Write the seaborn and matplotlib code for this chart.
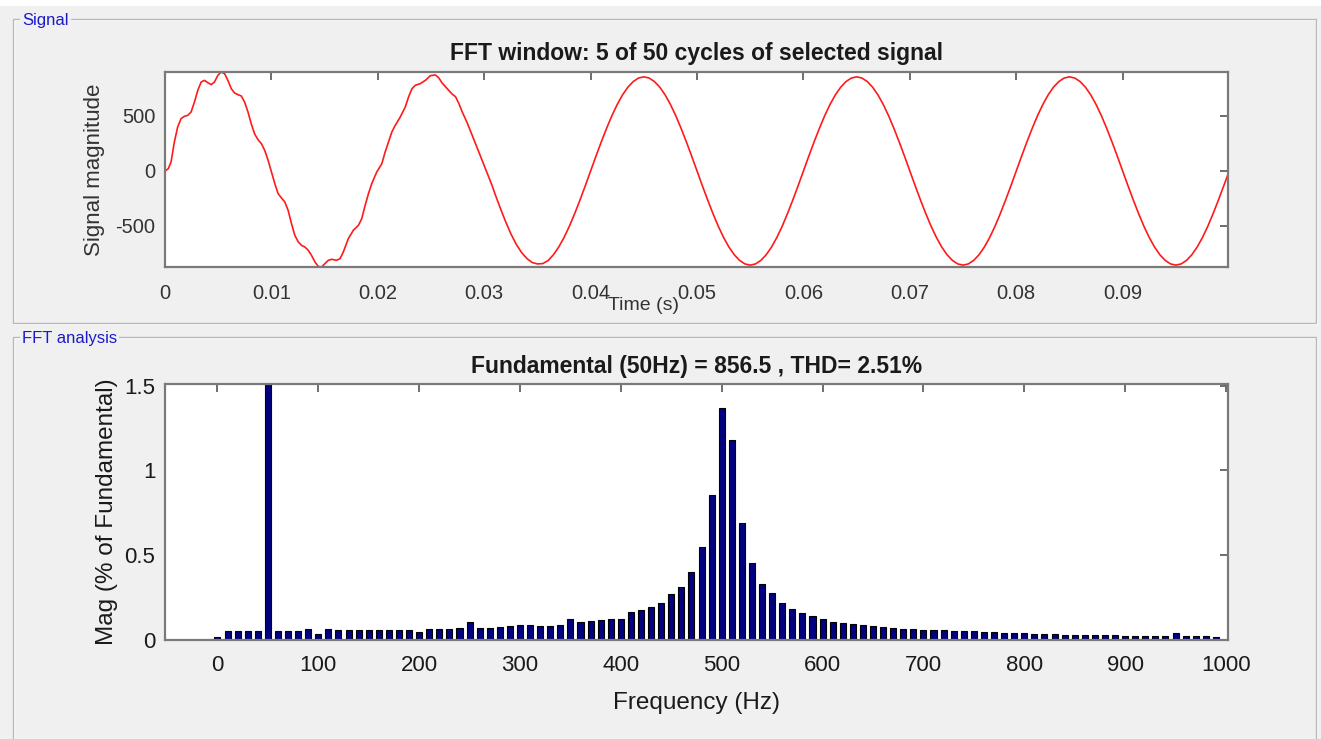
import numpy as np
import pandas as pd
import matplotlib
matplotlib.use('Agg')
import matplotlib.pyplot as plt
import seaborn as sns
from matplotlib.patches import Rectangle

# ---------------- data ----------------
# first 1.5 cycles (the distorted part), time in ms
t_start_ms = [0.0, 0.31, 0.57, 0.88, 1.19, 1.51, 1.82, 2.14, 2.45, 2.77,
              3.08, 3.40, 3.71, 4.02, 4.34, 4.65, 4.97, 5.28, 5.60, 5.91,
              6.23, 6.54, 6.86, 7.17, 7.48, 7.80, 8.11, 8.43, 8.74, 9.06,
              9.37, 9.69, 10.00, 10.32, 10.63, 10.94, 11.26, 11.57, 11.89, 12.20,
              12.52, 12.83, 13.14, 13.46, 13.77, 14.09, 14.40, 14.72, 15.03, 15.35,
              15.66, 16.13, 16.45, 16.76, 17.23, 17.70, 18.18, 18.49, 18.81, 19.12,
              19.43, 19.90, 20.38, 20.69, 21.01, 21.32, 21.64, 22.11, 22.58, 22.89,
              23.21, 23.52, 23.99, 24.47, 24.94, 25.41, 25.72, 26.04, 26.51, 26.98,
              27.30, 27.61, 27.92, 28.40, 28.87, 29.34, 29.81, 30.28, 30.75]
v_start = [0, 21, 82, 264, 400, 476, 497, 506, 536, 627,
           733, 809, 824, 803, 785, 809, 870, 900, 885, 824,
           748, 709, 694, 682, 627, 536, 427, 336, 285, 248,
           188, 97, -9, -115, -206, -245, -282, -358, -479, -585,
           -645, -676, -691, -721, -767, -827, -867, -873, -842, -812,
           -803, -812, -797, -736, -615, -539, -494, -433, -312, -206,
           -115, -9, 67, 173, 264, 355, 415, 491, 582, 673,
           748, 779, 794, 824, 867, 873, 848, 800, 750, 700,
           676, 615, 540, 438, 325, 210, 95, -20, -135]

# rest of the window, every 0.5 ms from 31 ms to 100 ms
t_rest_ms = np.arange(31.0, 100.01, 0.5)
v_rest = [-205, -335, -458, -570, -665, -740, -795, -832, -845, -842,
          -815, -762, -692, -605, -503, -388, -264, -134, 0,
          134, 264, 388, 503, 605, 692, 762, 813, 845, 856,
          845, 813, 762, 692, 605, 503, 388, 264, 134, 0,
          -134, -264, -388, -503, -605, -692, -762, -813, -845, -856,
          -845, -813, -762, -692, -605, -503, -388, -264, -134, 0,
          134, 264, 388, 503, 605, 692, 762, 813, 845, 856,
          845, 813, 762, 692, 605, 503, 388, 264, 134, 0,
          -134, -264, -388, -503, -605, -692, -762, -813, -845, -856,
          -845, -813, -762, -692, -605, -503, -388, -264, -134, 0,
          134, 264, 388, 503, 605, 692, 762, 813, 845, 856,
          845, 813, 762, 692, 605, 503, 388, 264, 134, 0,
          -134, -264, -388, -503, -605, -692, -762, -813, -845, -856,
          -845, -813, -762, -692, -605, -503, -388, -264, -134, -5]

# harmonic spectrum, 0 .. 990 Hz every 10 Hz, % of fundamental
freq_hz = np.arange(0, 1000, 10)
mag_pct = [0.02, 0.053, 0.053, 0.053, 0.053, 100.0, 0.053, 0.055, 0.055, 0.063,
           0.035, 0.063, 0.06, 0.06, 0.06, 0.06, 0.06, 0.06, 0.06, 0.06,
           0.045, 0.063, 0.065, 0.065, 0.068, 0.106, 0.073, 0.073, 0.078, 0.082,
           0.086, 0.088, 0.08, 0.084, 0.09, 0.124, 0.104, 0.11, 0.12, 0.125,
           0.126, 0.163, 0.176, 0.196, 0.22, 0.27, 0.31, 0.40, 0.547, 0.853,
           1.37, 1.18, 0.69, 0.453, 0.333, 0.28, 0.216, 0.18, 0.16, 0.14,
           0.125, 0.108, 0.10, 0.092, 0.086, 0.082, 0.075, 0.07, 0.067, 0.063,
           0.061, 0.059, 0.057, 0.055, 0.053, 0.053, 0.049, 0.045, 0.043, 0.043,
           0.04, 0.037, 0.035, 0.033, 0.031, 0.031, 0.029, 0.029, 0.027, 0.027,
           0.025, 0.024, 0.024, 0.023, 0.023, 0.042, 0.022, 0.021, 0.021, 0.02]

top_title = 'FFT window: 5 of 50 cycles of selected signal'
bottom_title = 'Fundamental (50Hz) = 856.5 , THD= 2.51%'

sig_df = pd.DataFrame({'time': np.concatenate([t_start_ms, t_rest_ms]) / 1000.0,
                       'value': np.concatenate([v_start, v_rest])})
fft_df = pd.DataFrame({'freq': freq_hz, 'mag': mag_pct})

#----------------- figure ------------------------------------------------
sns.set_style('white')
plt.rcParams['font.family'] = ['Liberation Sans', 'DejaVu Sans']
plt.rcParams['axes.unicode_minus'] = False

W, H = 1321, 739
fig = plt.figure(figsize=(W / 100, H / 100), dpi=100, facecolor='#f0f0f0')

def fbox(x0, y0, x1, y1):
    # pixel box (top-left origin) -> figure fraction rect
    return [x0 / W, 1 - y1 / H, (x1 - x0) / W, (y1 - y0) / H]

# white strip at the very top
fig.add_artist(Rectangle((0, 1 - 6 / H), 1, 6 / H, transform=fig.transFigure,
                         fc='white', ec='none'))

# group boxes
for (x0, y0, x1, y1), name in [((13, 19, 1316, 323), 'Signal'),
                               ((13, 337, 1316, 760), 'FFT analysis')]:
    r = fbox(x0, y0, x1, y1)
    fig.add_artist(Rectangle((r[0] + 1 / W, r[1] - 1 / H), r[2], r[3],
                             transform=fig.transFigure, fill=False, ec='white', lw=1))
    fig.add_artist(Rectangle((r[0], r[1]), r[2], r[3], transform=fig.transFigure,
                             fill=False, ec='#b9b9b9', lw=1))
    fig.text((x0 + 9) / W, 1 - (y0 + 1.5) / H, name, fontsize=12, color='#1a1acc',
             va='center', ha='left',
             bbox=dict(fc='#f0f0f0', ec='none', pad=1.5))

ax1 = fig.add_axes(fbox(165, 72, 1228, 267))
ax2 = fig.add_axes(fbox(165, 384, 1228, 640))

# ---- signal ----
sns.lineplot(data=sig_df, x='time', y='value', ax=ax1, color='#ff1a1a', lw=1.2)
ax1.set_xlim(0, 0.0999)
ax1.set_ylim(sig_df['value'].min(), sig_df['value'].max())
ax1.set_xticks(np.arange(0, 0.0951, 0.01))
ax1.set_xticklabels(['0'] + ['0.0%d' % i for i in range(1, 10)])
ax1.set_yticks([-500, 0, 500])
ax1.set_yticklabels(['-500', '0', '500'])
ax1.tick_params(axis='x', pad=12)
ax1.tick_params(axis='y', pad=7)
ax1.tick_params(labelsize=14.5, labelcolor='#333333')
ax1.set_title(top_title, fontsize=16.5, fontweight='bold', y=1 + 19 / 195, pad=0,
              va='center', color='#1a1a1a')
ax1.set_xlabel('Time (s)', fontsize=14, color='#333333')
ax1.xaxis.set_label_coords(0.4506, -0.195)
ax1.xaxis.label.set_va('center')
ax1.set_ylabel('Signal magnitude', fontsize=16, color='#333333')
ax1.yaxis.set_label_coords(-0.066, 0.5)
ax1.yaxis.label.set_va('center')

# ---- spectrum ----
sns.barplot(data=fft_df, x='freq', y='mag', ax=ax2, native_scale=True, width=0.6,
            color='#000080', edgecolor='black', linewidth=0.8, saturation=1,
            errorbar=None)
ax2.set_xlim(-52, 1002)
ax2.set_ylim(0, 1.51)
ax2.set_xticks(np.arange(0, 1001, 100))
ax2.set_xticklabels([str(v) for v in range(0, 1001, 100)])
ax2.set_yticks([0, 0.5, 1, 1.5])
ax2.set_yticklabels(['0', '0.5', '1', '1.5'])
ax2.tick_params(axis='x', pad=11)
ax2.tick_params(axis='y', pad=7)
ax2.tick_params(labelsize=16, labelcolor='#1a1a1a')
ax2.set_title(bottom_title, fontsize=16.5, fontweight='bold', y=1 + 17 / 256, pad=0,
              va='center', color='#1a1a1a')
ax2.set_xlabel('Frequency (Hz)', fontsize=17.5, color='#1a1a1a')
ax2.xaxis.set_label_coords(0.5, -0.245)
ax2.xaxis.label.set_va('center')
ax2.set_ylabel('Mag (% of Fundamental)', fontsize=17.5, color='#1a1a1a')
ax2.yaxis.set_label_coords(-0.0546, 0.5)
ax2.yaxis.label.set_va('center')

for ax in (ax1, ax2):
    ax.set_facecolor('white')
    for s in ax.spines.values():
        s.set_color('#7a7a7a')
        s.set_linewidth(1.6)
    ax.tick_params(direction='in', top=True, right=True, length=6,
                   width=1.4, color='#6e6e6e')

fig.savefig('out.png', dpi=100, facecolor=fig.get_facecolor())
